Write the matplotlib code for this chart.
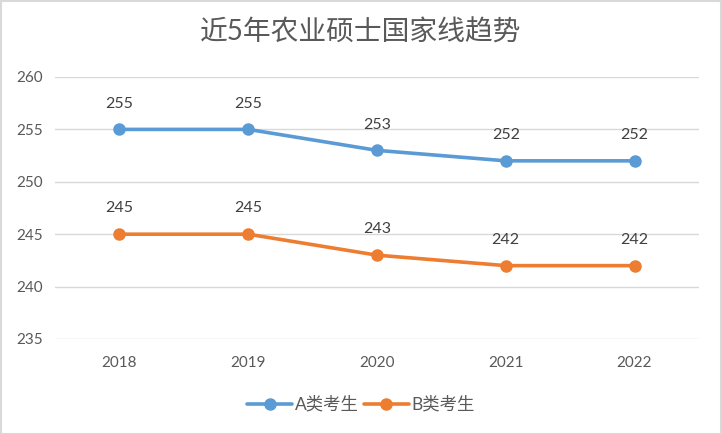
import matplotlib
matplotlib.use("Agg")
import matplotlib.pyplot as plt
from matplotlib.patches import Rectangle

years = ["2018", "2019", "2020", "2021", "2022"]
series_a = [255, 255, 253, 252, 252]
series_b = [245, 245, 243, 242, 242]
name_a = "A类考生"
name_b = "B类考生"
title = "近5年农业硕士国家线趋势"
yticks = [235, 240, 245, 250, 255, 260]

plt.rcParams['font.family'] = ['Lato', 'Noto Sans CJK SC', 'DejaVu Sans']

fig = plt.figure(figsize=(7.22, 4.34), dpi=100)
fig.patch.set_facecolor('white')
fig.patches.append(Rectangle((0.001, 0.001), 0.997, 0.996, transform=fig.transFigure,
                             fill=False, edgecolor='#d9d9d9', linewidth=1.5))

ax = fig.add_axes([0.0762, 0.2189, 0.8918, 0.6037])
x = list(range(len(years)))
ca, cb = '#5B9BD5', '#ED7D31'
ax.plot(x, series_a, color=ca, lw=2.6, marker='o', ms=8, label=name_a, solid_capstyle='round')
ax.plot(x, series_b, color=cb, lw=2.6, marker='o', ms=8, label=name_b, solid_capstyle='round')

for xs, ys in ((x, series_a), (x, series_b)):
    for xi, yi in zip(xs, ys):
        ax.annotate(str(yi), (xi, yi), xytext=(0, 13.5), textcoords='offset points',
                    ha='center', va='bottom', fontsize=11.5, color='#404040')

ax.set_xlim(-0.5, len(years) - 0.5)
ax.set_ylim(235, 260)
ax.set_yticks(yticks)
ax.set_xticks(x)
ax.set_xticklabels(years)
ax.grid(axis='y', color='#d9d9d9', lw=1)
ax.set_axisbelow(True)
for s in ax.spines.values():
    s.set_visible(False)
ax.tick_params(axis='both', length=0, labelsize=11, labelcolor='#595959')
ax.tick_params(axis='x', pad=12)
ax.tick_params(axis='y', pad=8.5)

fig.text(0.5, 0.926, title, ha='center', va='center', fontsize=20, color='#595959')

fig.legend(loc='center', bbox_to_anchor=(0.5, 0.068), ncol=2, frameon=False,
           fontsize=12.5, labelcolor='#595959', handlelength=2.6, columnspacing=0.3,
           handletextpad=0.15)

fig.savefig('out.png', dpi=100)
